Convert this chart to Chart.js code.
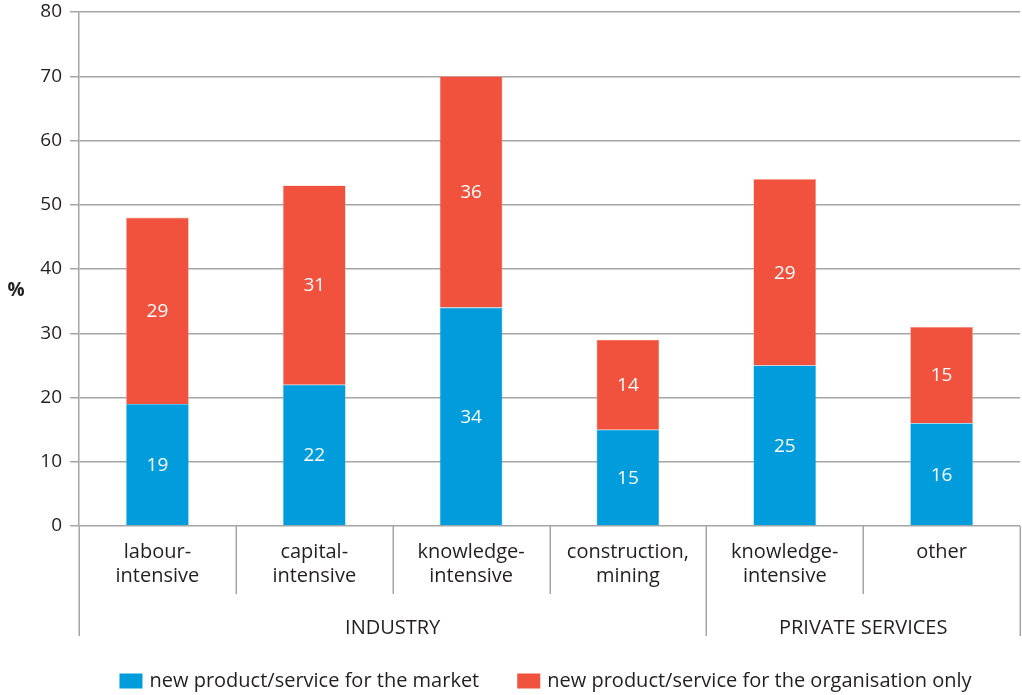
<!DOCTYPE html>
<html lang="en">
<head>
<meta charset="utf-8">
<title>New products and services by sector</title>
<style>
  html, body { margin: 0; padding: 0; background: #fff; }
  #chart { display: block; }
</style>
</head>
<body>
<canvas id="chart" width="1022" height="695"></canvas>
<script src="https://cdn.jsdelivr.net/npm/chart.js@4.4.1/dist/chart.umd.min.js"></script>
<script>
  // sectors (two-line labels) and the groups they belong to
  const categories = [
    ['labour-', 'intensive'],
    ['capital-', 'intensive'],
    ['knowledge-', 'intensive'],
    ['construction,', 'mining'],
    ['knowledge-', 'intensive'],
    'other'
  ];
  const groupNames = ['INDUSTRY', 'PRIVATE SERVICES'];
  const groupSizes = [4, 2];

  const seriesNames = ['new product/service for the market', 'new product/service for the organisation only'];
  const forMarket = [19, 22, 34, 15, 25, 16];
  const forOrgOnly = [29, 31, 36, 14, 29, 15];

  const yMax = 80;
  const yStep = 10;

  const BLUE = '#009cdc';
  const RED = '#f0523e';
  const GRID = '#a5a5a8';
  const INK = '#231f20';
  const FONT = '"Open Sans", "DejaVu Sans", sans-serif';

  // value labels, separators, group names, axis unit and legend
  const decor = {
    id: 'decor',
    afterDatasetsDraw(chart) {
      const ctx = chart.ctx;
      ctx.save();
      ctx.fillStyle = '#fff';
      ctx.font = '19px ' + FONT;
      ctx.textAlign = 'center';
      ctx.textBaseline = 'middle';
      chart.data.datasets.forEach((ds, di) => {
        chart.getDatasetMeta(di).data.forEach((el, i) => {
          ctx.fillText(String(ds.data[i]), el.x, (el.y + el.base) / 2 + 1);
        });
      });
      ctx.restore();
    },
    afterDraw(chart) {
      const ctx = chart.ctx;
      const x = chart.scales.x;
      const area = chart.chartArea;
      const edge = i => x.getPixelForValue(i - 0.5);
      ctx.save();
      ctx.strokeStyle = GRID;
      ctx.lineWidth = 1.5;

      // group boundaries reach down past the group names
      const groupEdges = [0];
      groupSizes.forEach(n => groupEdges.push(groupEdges[groupEdges.length - 1] + n));
      for (let i = 0; i <= categories.length; i++) {
        const px = Math.round(edge(i)) + 0.25;
        const bottom = groupEdges.includes(i) ? area.bottom + 110 : area.bottom + 68;
        ctx.beginPath();
        ctx.moveTo(px, area.bottom);
        ctx.lineTo(px, bottom);
        ctx.stroke();
      }

      ctx.fillStyle = INK;
      ctx.font = '20px ' + FONT;
      ctx.textAlign = 'center';
      ctx.textBaseline = 'middle';
      groupNames.forEach((name, g) => {
        const cx = (edge(groupEdges[g]) + edge(groupEdges[g + 1])) / 2;
        ctx.fillText(name, cx, area.bottom + 102);
      });

      // unit of the value axis
      ctx.font = 'bold 19px ' + FONT;
      ctx.fillText('%', 16, 291);

      // legend, centred under the plot area
      ctx.font = '20px ' + FONT;
      ctx.textAlign = 'left';
      const box = 23, boxH = 15, gapText = 7, gapItem = 38;
      const widths = seriesNames.map(s => box + gapText + ctx.measureText(s).width);
      const total = widths.reduce((a, b) => a + b, 0) + gapItem;
      let lx = (area.left + area.right) / 2 - total / 2 - 4;
      const ly = 681;
      chart.data.datasets.forEach((ds, i) => {
        ctx.fillStyle = ds.backgroundColor;
        ctx.fillRect(lx, ly - boxH / 2, box, boxH);
        ctx.fillStyle = INK;
        ctx.fillText(seriesNames[i], lx + box + gapText, ly);
        lx += widths[i] + gapItem;
      });
      ctx.restore();
    }
  };

  new Chart(document.getElementById('chart'), {
    type: 'bar',
    data: {
      labels: categories,
      datasets: [
        { label: seriesNames[0], data: forMarket, backgroundColor: BLUE, borderColor: '#5cc0ea', borderWidth: 0.6 },
        { label: seriesNames[1], data: forOrgOnly, backgroundColor: RED, borderColor: '#f7a596', borderWidth: 0.6 }
      ]
    },
    options: {
      responsive: false,
      animation: false,
      categoryPercentage: 1,
      barPercentage: 0.4,
      layout: { padding: { top: 12, right: 2, left: 0, bottom: 0 } },
      plugins: {
        legend: { display: false },
        tooltip: { enabled: false }
      },
      scales: {
        x: {
          stacked: true,
          grid: { display: false, drawTicks: false },
          border: { display: false },
          ticks: {
            color: INK,
            padding: 14,
            maxRotation: 0,
            autoSkip: false,
            font: { family: FONT, size: 20, lineHeight: 1.2 }
          },
          afterFit(scale) { scale.height = 169; }
        },
        y: {
          stacked: true,
          min: 0,
          max: yMax,
          grid: { color: GRID, lineWidth: 1.5, tickLength: 9 },
          border: { color: GRID, width: 1.5 },
          ticks: {
            stepSize: yStep,
            color: INK,
            padding: 8,
            font: { family: FONT, size: 19 }
          },
          afterFit(scale) {
            scale.width = 79;
            scale.paddingTop = 0;
            scale.paddingBottom = 0;
          }
        }
      }
    },
    plugins: [decor]
  });
</script>
</body>
</html>
